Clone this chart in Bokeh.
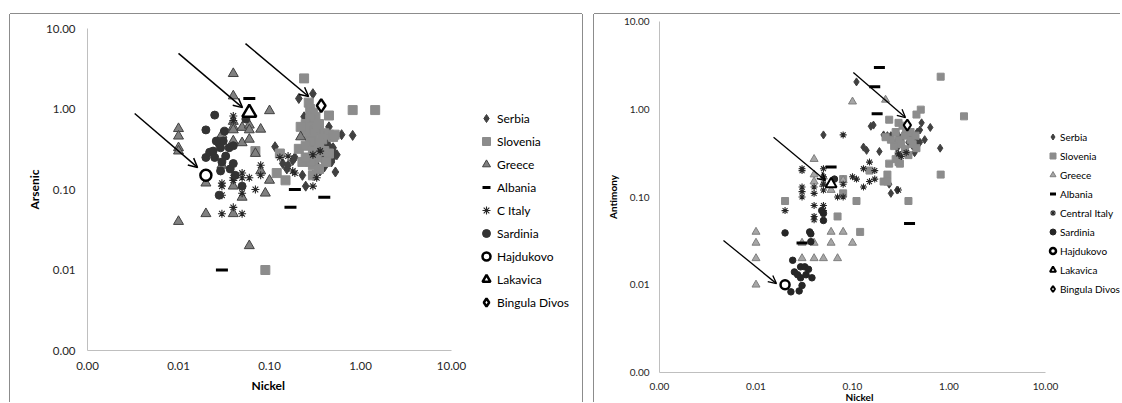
from bokeh.plotting import figure
from bokeh.models import Range1d, FixedTicker, PrintfTickFormatter, Arrow, OpenHead, Legend, LegendItem, Title
from bokeh.embed import file_html
from bokeh.resources import INLINE

# ---------------- data ----------------
tick_values = [0.001, 0.01, 0.1, 1, 10]
series_left = ["Serbia", "Slovenia", "Greece", "Albania", "C Italy", "Sardinia",
               "Hajdukovo", "Lakavica", "Bingula Divos"]
series_right = ["Serbia", "Slovenia", "Greece", "Albania", "Central Italy", "Sardinia",
                "Hajdukovo", "Lakavica", "Bingula Divos"]

# Left chart: Nickel vs Arsenic
serbia_ni_a = [0.21, 0.30, 0.24, 0.62, 0.82, 0.115, 0.14, 0.19, 0.155, 0.25, 0.23, 0.53, 0.5, 0.5, 0.55, 0.4,
               0.36, 0.45, 0.35, 0.45, 0.4, 0.3, 0.52, 0.48, 0.33, 0.42, 0.38, 0.18, 0.16, 0.3, 0.27, 0.32]
serbia_as = [1.35, 1.55, 0.8, 0.48, 0.47, 0.34, 0.21, 0.25, 0.18, 0.11, 0.15, 0.165, 0.33, 0.25, 0.27, 0.19,
             0.17, 0.6, 0.3, 0.35, 0.27, 0.33, 0.28, 0.22, 0.2, 0.38, 0.24, 0.23, 0.2, 0.15, 0.42, 0.25]
slovenia_ni_a = [0.24, 0.82, 1.45, 0.45, 0.09, 0.07, 0.12, 0.15, 0.13, 0.21, 0.23, 0.27, 0.28, 0.3, 0.32, 0.28,
                 0.25, 0.3, 0.35, 0.33, 0.27, 0.3, 0.4, 0.45, 0.5, 0.38, 0.35, 0.28, 0.25, 0.3, 0.33, 0.4,
                 0.45, 0.3, 0.35, 0.3, 0.42, 0.25, 0.22, 0.52, 0.28, 0.25]
slovenia_as = [2.4, 0.97, 0.97, 0.83, 0.01, 0.30, 0.16, 0.13, 0.28, 0.32, 0.22, 1.2, 1.0, 0.9, 0.8, 0.75,
               0.65, 0.6, 0.65, 0.55, 0.5, 0.45, 0.5, 0.48, 0.45, 0.42, 0.38, 0.4, 0.35, 0.3, 0.25, 0.3,
               0.28, 0.2, 0.18, 0.15, 0.22, 0.55, 0.6, 0.48, 0.22, 0.25]
greece_ni_a = [0.04, 0.04, 0.01, 0.01, 0.01, 0.01, 0.01, 0.02, 0.02, 0.03, 0.04, 0.04, 0.04, 0.04, 0.04, 0.04,
               0.05, 0.05, 0.05, 0.06, 0.06, 0.06, 0.06, 0.07, 0.08, 0.09, 0.10, 0.10, 0.22, 0.08, 0.03]
greece_as = [2.75, 1.45, 0.57, 0.46, 0.33, 0.30, 0.04, 0.12, 0.05, 0.48, 0.70, 0.60, 0.55, 0.40, 0.11, 0.05,
             0.59, 0.38, 0.08, 0.63, 0.55, 0.42, 0.02, 0.28, 0.56, 0.09, 0.95, 0.13, 0.45, 0.17, 0.2]
albania_ni_a = [0.06, 0.19, 0.17, 0.40, 0.03]
albania_as = [1.35, 0.10, 0.06, 0.08, 0.01]
citaly_ni_a = [0.04, 0.04, 0.03, 0.03, 0.03, 0.03, 0.04, 0.04, 0.04, 0.05, 0.05, 0.05, 0.05, 0.06, 0.07, 0.08,
               0.08, 0.13, 0.16, 0.18, 0.19, 0.30, 0.33, 0.30, 0.36]
citaly_as = [0.82, 0.72, 0.12, 0.11, 0.085, 0.05, 0.06, 0.14, 0.13, 0.16, 0.14, 0.09, 0.05, 0.14, 0.10, 0.20,
             0.15, 0.25, 0.26, 0.17, 0.16, 0.11, 0.14, 0.27, 0.30]
sardinia_ni_a = [0.025, 0.02, 0.032, 0.028, 0.02, 0.022, 0.025, 0.029, 0.033, 0.036, 0.04, 0.029, 0.037, 0.04,
                 0.042, 0.05, 0.028, 0.055, 0.031, 0.026, 0.03, 0.024]
sardinia_as = [0.84, 0.55, 0.53, 0.37, 0.25, 0.29, 0.25, 0.33, 0.26, 0.33, 0.35, 0.17, 0.18, 0.21,
               0.15, 0.11, 0.085, 0.75, 0.40, 0.40, 0.22, 0.3]
hajdukovo_ni_a = [0.02]
hajdukovo_as = [0.15]
lakavica_ni_a = [0.06]
lakavica_as = [0.9]
bingula_ni_a = [0.37]
bingula_as = [1.1]

# Right chart: Nickel vs Antimony
serbia_ni_b = [0.05, 0.11, 0.155, 0.165, 0.13, 0.14, 0.19, 0.21, 0.23, 0.25, 0.25, 0.24, 0.64, 0.81, 0.56, 0.52,
               0.5, 0.3, 0.32, 0.35, 0.4, 0.45, 0.48, 0.42, 0.38, 0.36, 0.44, 0.28, 0.33, 0.5, 0.47, 0.29, 0.29]
serbia_sb = [0.51, 2.05, 0.64, 0.66, 0.37, 0.34, 0.33, 0.51, 0.50, 0.5, 0.11, 0.14, 0.62, 0.36, 0.45, 0.70,
             0.58, 0.5, 0.45, 0.55, 0.5, 0.45, 0.4, 0.38, 0.42, 0.34, 0.32, 0.42, 0.38, 0.42, 0.55, 0.36, 0.12]
slovenia_ni_b = [0.02, 0.07, 0.08, 0.11, 0.12, 0.15, 0.23, 0.21, 0.23, 0.24, 0.24, 0.51, 0.46, 0.82, 1.43, 0.82,
                 0.38, 0.46, 0.3, 0.33, 0.28, 0.35, 0.3, 0.4, 0.32, 0.27, 0.35, 0.42, 0.3, 0.38, 0.3, 0.28,
                 0.4, 0.45, 0.36, 0.25, 0.22, 0.31, 0.08]
slovenia_sb = [0.09, 0.06, 0.11, 0.09, 0.04, 0.20, 0.18, 0.15, 0.15, 0.24, 0.76, 0.99, 0.87, 2.35, 0.83, 0.18,
               0.09, 0.36, 0.7, 0.65, 0.55, 0.5, 0.45, 0.45, 0.4, 0.38, 0.35, 0.4, 0.3, 0.3, 0.25, 0.27,
               0.55, 0.5, 0.6, 0.45, 0.48, 0.24, 0.16]
greece_ni_b = [0.01, 0.01, 0.01, 0.01, 0.03, 0.03, 0.04, 0.04, 0.04, 0.04, 0.04, 0.05, 0.06, 0.06, 0.06, 0.07,
               0.08, 0.08, 0.10, 0.10, 0.22, 0.05, 0.05]
greece_sb = [0.04, 0.03, 0.02, 0.01, 0.02, 0.03, 0.27, 0.15, 0.18, 0.03, 0.02, 0.02, 0.04, 0.03, 0.12, 0.02,
             0.04, 0.155, 0.03, 1.22, 1.28, 0.17, 0.14]
albania_ni_b = [0.19, 0.17, 0.18, 0.06, 0.03, 0.39]
albania_sb = [3.0, 1.8, 0.89, 0.22, 0.03, 0.05]
citaly_ni_b = [0.02, 0.03, 0.03, 0.03, 0.03, 0.03, 0.04, 0.04, 0.04, 0.04, 0.04, 0.05, 0.05, 0.05, 0.05, 0.05,
               0.05, 0.07, 0.08, 0.08, 0.08, 0.10, 0.11, 0.13, 0.13, 0.15, 0.15, 0.17, 0.17, 0.30, 0.32,
               0.36, 0.30]
citaly_sb = [0.07, 0.21, 0.20, 0.13, 0.115, 0.10, 0.13, 0.11, 0.08, 0.06, 0.055, 0.21, 0.17, 0.14, 0.12, 0.08,
             0.07, 0.10, 0.10, 0.14, 0.51, 0.17, 0.16, 0.21, 0.13, 0.25, 0.15, 0.16, 0.20, 0.31, 0.29,
             0.32, 0.12]
sardinia_ni_b = [0.02, 0.024, 0.025, 0.027, 0.029, 0.032, 0.035, 0.038, 0.029, 0.033, 0.03, 0.023, 0.028,
                 0.036, 0.037, 0.037, 0.05, 0.05, 0.065, 0.048]
sardinia_sb = [0.039, 0.019, 0.014, 0.013, 0.016, 0.016, 0.015, 0.012, 0.012, 0.013, 0.0098, 0.0083, 0.0085,
               0.04, 0.038, 0.031, 0.054, 0.065, 0.16, 0.07]
hajdukovo_ni_b = [0.02]
hajdukovo_sb = [0.01]
lakavica_ni_b = [0.06]
lakavica_sb = [0.14]
bingula_ni_b = [0.37]
bingula_sb = [0.66]

# arrows (data coordinates: x_start, y_start, x_end, y_end)
arrows_left = [(0.0033, 0.88, 0.0162, 0.188), (0.0100, 4.9, 0.0505, 1.04), (0.0545, 6.5, 0.269, 1.43)]
arrows_right = [(0.0046, 0.032, 0.0163, 0.0103), (0.0152, 0.48, 0.0525, 0.154), (0.102, 2.62, 0.354, 0.805)]

FONT = "Lato"
AX_MIN, AX_MAX = 0.001, 10.0
EDGE = "#8c8c8c"


def style_axes(p, fs, x_std, y_std):
    for ax in (p.xaxis[0], p.yaxis[0]):
        ax.ticker = FixedTicker(ticks=tick_values, minor_ticks=[])
        ax.formatter = PrintfTickFormatter(format="%.2f")
        ax.axis_line_color = "#bfbfbf"
        ax.axis_line_width = 1
        ax.major_tick_line_color = None
        ax.minor_tick_line_color = None
        ax.major_tick_out = 0
        ax.major_tick_in = 0
        ax.major_label_text_font = FONT
        ax.major_label_text_font_size = fs
        ax.major_label_text_color = "#262626"
        ax.bounds = (AX_MIN, AX_MAX)
    p.xaxis[0].major_label_standoff = x_std
    p.yaxis[0].major_label_standoff = y_std
    p.xgrid.visible = False
    p.ygrid.visible = False
    p.outline_line_color = None


def add_title(p, side, text, fs, align, offset, standoff):
    p.add_layout(Title(text=text, align=align, offset=offset, standoff=standoff, text_font=FONT,
                       text_font_size=fs, text_font_style="bold", text_color="#000000"), side)


def add_legend(p, labels, renderers, loc, fs, gw, gh, spacing, standoff):
    lg = Legend(items=[LegendItem(label=t, renderers=[r]) for t, r in zip(labels, renderers)])
    lg.location = loc
    lg.border_line_color = None
    lg.background_fill_alpha = 0
    lg.padding = 0
    lg.margin = 0
    lg.spacing = spacing
    lg.glyph_width = gw
    lg.glyph_height = gh
    lg.label_height = gh
    lg.label_standoff = standoff
    lg.label_text_font = FONT
    lg.label_text_font_size = fs
    lg.label_text_color = "#000000"
    p.add_layout(lg, "center")


def make_fig(width, left, axis_px, top, bottom, margin, shadow):
    # the frame extends to the figure's right edge (legend lives inside it);
    # the axes are bounded to 0.001..10, whose length is axis_px pixels
    frame_w = width - left
    x_end = 10 ** (-3 + 4 * frame_w / axis_px)
    return figure(width=width, height=388, x_axis_type="log", y_axis_type="log",
                  x_range=Range1d(AX_MIN, x_end), y_range=Range1d(AX_MIN, AX_MAX),
                  output_backend="svg", toolbar_location=None,
                  min_border_left=left, min_border_right=0, min_border_top=top, min_border_bottom=bottom,
                  margin=margin, styles={"float": "left", "box-shadow": shadow})


# ---------------- left panel ----------------
pl = make_fig(572, 77, 364, 14, 52, (14, 0, 0, 10),
              f"-1px 0 0 0 {EDGE}, 1px 0 0 0 {EDGE}, 0 -1px 0 0 {EDGE}")
style_axes(pl, "11.5px", 11, 12)
add_title(pl, "left", "Arsenic", "12px", "center", 0, 4)
add_title(pl, "below", "Nickel", "12px", "left", 164, 6)

rl = [
    pl.scatter(serbia_ni_a, serbia_as, marker="diamond", size=10, color="#404040"),
    pl.scatter(slovenia_ni_a, slovenia_as, marker="square", size=9, color="#8c8c8c"),
    pl.scatter(greece_ni_a, greece_as, marker="triangle", size=10, fill_color="#808080", line_color="#404040",
               line_width=1),
    pl.scatter(albania_ni_a, albania_as, marker="dash", size=12, line_color="#000000", line_width=3),
    pl.scatter(citaly_ni_a, citaly_as, marker="asterisk", size=8, line_color="#262626", line_width=1.1),
    pl.scatter(sardinia_ni_a, sardinia_as, marker="circle", size=8, color="#333333"),
    pl.scatter(hajdukovo_ni_a, hajdukovo_as, marker="circle", size=11, fill_color="white", line_color="black",
               line_width=2.5),
    pl.scatter(lakavica_ni_a, lakavica_as, marker="triangle", size=14, fill_color="white", line_color="black",
               line_width=2.5),
    pl.scatter(bingula_ni_a, bingula_as, marker="diamond", size=13, fill_color="white",
               line_color="black", line_width=2.5),
]
for xs, ys, xe, ye in arrows_left:
    pl.add_layout(Arrow(end=OpenHead(size=9, line_width=1.5, line_color="black"),
                        x_start=xs, y_start=ys, x_end=xe, y_end=ye, line_width=1.5, line_color="black"))
add_legend(pl, series_left, rl, (389, 38), "12px", 20, 20, 3, 1)

# ---------------- right panel ----------------
pr = make_fig(526, 65, 386, 7, 30, (14, 0, 0, 12),
              f"-1px 0 0 0 {EDGE}, 0 -1px 0 0 {EDGE}")
style_axes(pr, "10px", 10, 10)
add_title(pr, "left", "Antimony", "10px", "center", -6, 3)
add_title(pr, "below", "Nickel", "10px", "left", 186, -7)

rr = [
    pr.scatter(serbia_ni_b, serbia_sb, marker="diamond", size=8, color="#404040"),
    pr.scatter(slovenia_ni_b, slovenia_sb, marker="square", size=7, color="#8c8c8c"),
    pr.scatter(greece_ni_b, greece_sb, marker="triangle", size=8, fill_color="#a6a6a6", line_color="#7f7f7f",
               line_width=1),
    pr.scatter(albania_ni_b, albania_sb, marker="dash", size=11, line_color="#000000", line_width=3),
    pr.scatter(citaly_ni_b, citaly_sb, marker="asterisk", size=7, line_color="#262626", line_width=1.1),
    pr.scatter(sardinia_ni_b, sardinia_sb, marker="circle", size=6.5, color="#262626"),
    pr.scatter(hajdukovo_ni_b, hajdukovo_sb, marker="circle", size=9, fill_color="white", line_color="black",
               line_width=2.5),
    pr.scatter(lakavica_ni_b, lakavica_sb, marker="triangle", size=11, fill_color="white", line_color="black",
               line_width=2),
    pr.scatter(bingula_ni_b, bingula_sb, marker="diamond", size=11, fill_color="white",
               line_color="black", line_width=2),
]
for xs, ys, xe, ye in arrows_right:
    pr.add_layout(Arrow(end=OpenHead(size=8, line_width=1.3, line_color="black"),
                        x_start=xs, y_start=ys, x_end=xe, y_end=ye, line_width=1.3, line_color="black"))
add_legend(pr, series_right, rr, (386, 76), "10px", 15, 15, 4, 0)

open("out.html", "w").write(file_html([pl, pr], INLINE))
